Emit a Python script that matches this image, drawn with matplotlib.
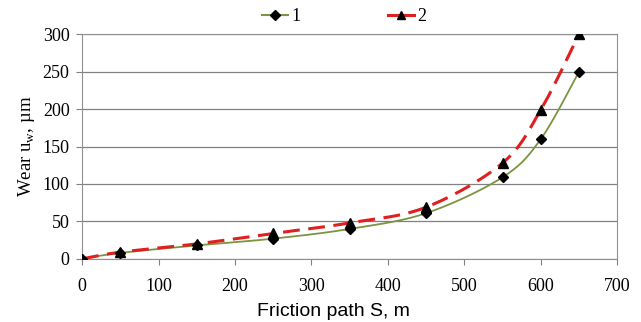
import numpy as np
import matplotlib
matplotlib.use("Agg")
import matplotlib.pyplot as plt

# friction path, m
path = [0, 50, 150, 250, 350, 450, 550, 600, 650]
# wear of the two samples, um
wear_1 = [0, 8, 18, 27, 40, 61, 109, 160, 250]
wear_2 = [0, 9, 20, 34, 48, 69, 128, 199, 300]
series_labels = ["1", "2"]
x_ticks = [0, 100, 200, 300, 400, 500, 600, 700]
y_ticks = [0, 50, 100, 150, 200, 250, 300]


def smooth(xs, ys, n=30, tension=1 / 6):
    # Bezier smoothing through every point, like a spreadsheet "smoothed line"
    xs = np.asarray(xs, float)
    ys = np.asarray(ys, float)
    px, py = [], []
    for i in range(len(xs) - 1):
        i0 = max(i - 1, 0)
        i3 = min(i + 2, len(xs) - 1)
        p0 = np.array([xs[i], ys[i]])
        p3 = np.array([xs[i + 1], ys[i + 1]])
        p1 = p0 + tension * (p3 - np.array([xs[i0], ys[i0]]))
        p2 = p3 - tension * (np.array([xs[i3], ys[i3]]) - p0)
        t = np.linspace(0, 1, n)[:, None]
        seg = ((1 - t) ** 3 * p0 + 3 * (1 - t) ** 2 * t * p1
               + 3 * (1 - t) * t ** 2 * p2 + t ** 3 * p3)
        px.extend(seg[:, 0])
        py.extend(seg[:, 1])
    return px, py


serif = ["Liberation Serif", "DejaVu Serif"]
plt.rcParams["font.family"] = serif

fig = plt.figure(figsize=(6.41, 3.22), dpi=100)
ax = fig.add_axes([0.128, 0.196, 0.835, 0.698])

green = "#7a9440"
red = "#e02020"

sx, sy = smooth(path, wear_1)
ax.plot(sx, sy, color=green, lw=1.3, zorder=3)
ax.plot(path, wear_1, ls="none", marker="D", ms=5.5, color="black", zorder=4)

sx, sy = smooth(path, wear_2)
ax.plot(sx, sy, color=red, lw=2.2, dashes=(5.5, 2.8), zorder=3)
ax.plot(path, wear_2, ls="none", marker="^", ms=6.5, color="black", zorder=4)

ax.set_xlim(0, 700)
ax.set_ylim(0, 300)
ax.set_xticks(x_ticks)
ax.set_yticks(y_ticks)
ax.yaxis.grid(True, color="#808080", lw=0.9)
ax.set_axisbelow(True)
for s in ax.spines.values():
    s.set_color("#909090")
ax.tick_params(direction="out", length=4, color="#808080", labelsize=13)
ax.tick_params(axis="x", pad=10)
ax.tick_params(axis="y", pad=5)

ax.set_xlabel("Friction path S, m", family=["Liberation Sans", "DejaVu Sans"],
              fontsize=14)
ax.xaxis.set_label_coords(0.47, -0.195, transform=ax.transAxes)
ax.xaxis.label.set_va("top")
ax.set_ylabel("Wear u$_\\mathregular{w}$, µm", fontsize=13.5, labelpad=4)

h1 = plt.Line2D([], [], color=green, lw=1.5, marker="D", ms=5, mfc="black", mec="black")
h2 = plt.Line2D([], [], color=red, lw=2.2, marker="^", ms=6, mfc="black", mec="black")
fig.legend([h1, h2], series_labels, loc="upper center", bbox_to_anchor=(0.537, 1.025),
           ncol=2, frameon=False, fontsize=13, handlelength=1.45, handletextpad=0.2,
           columnspacing=4.8)

fig.savefig("out.png", dpi=100)
